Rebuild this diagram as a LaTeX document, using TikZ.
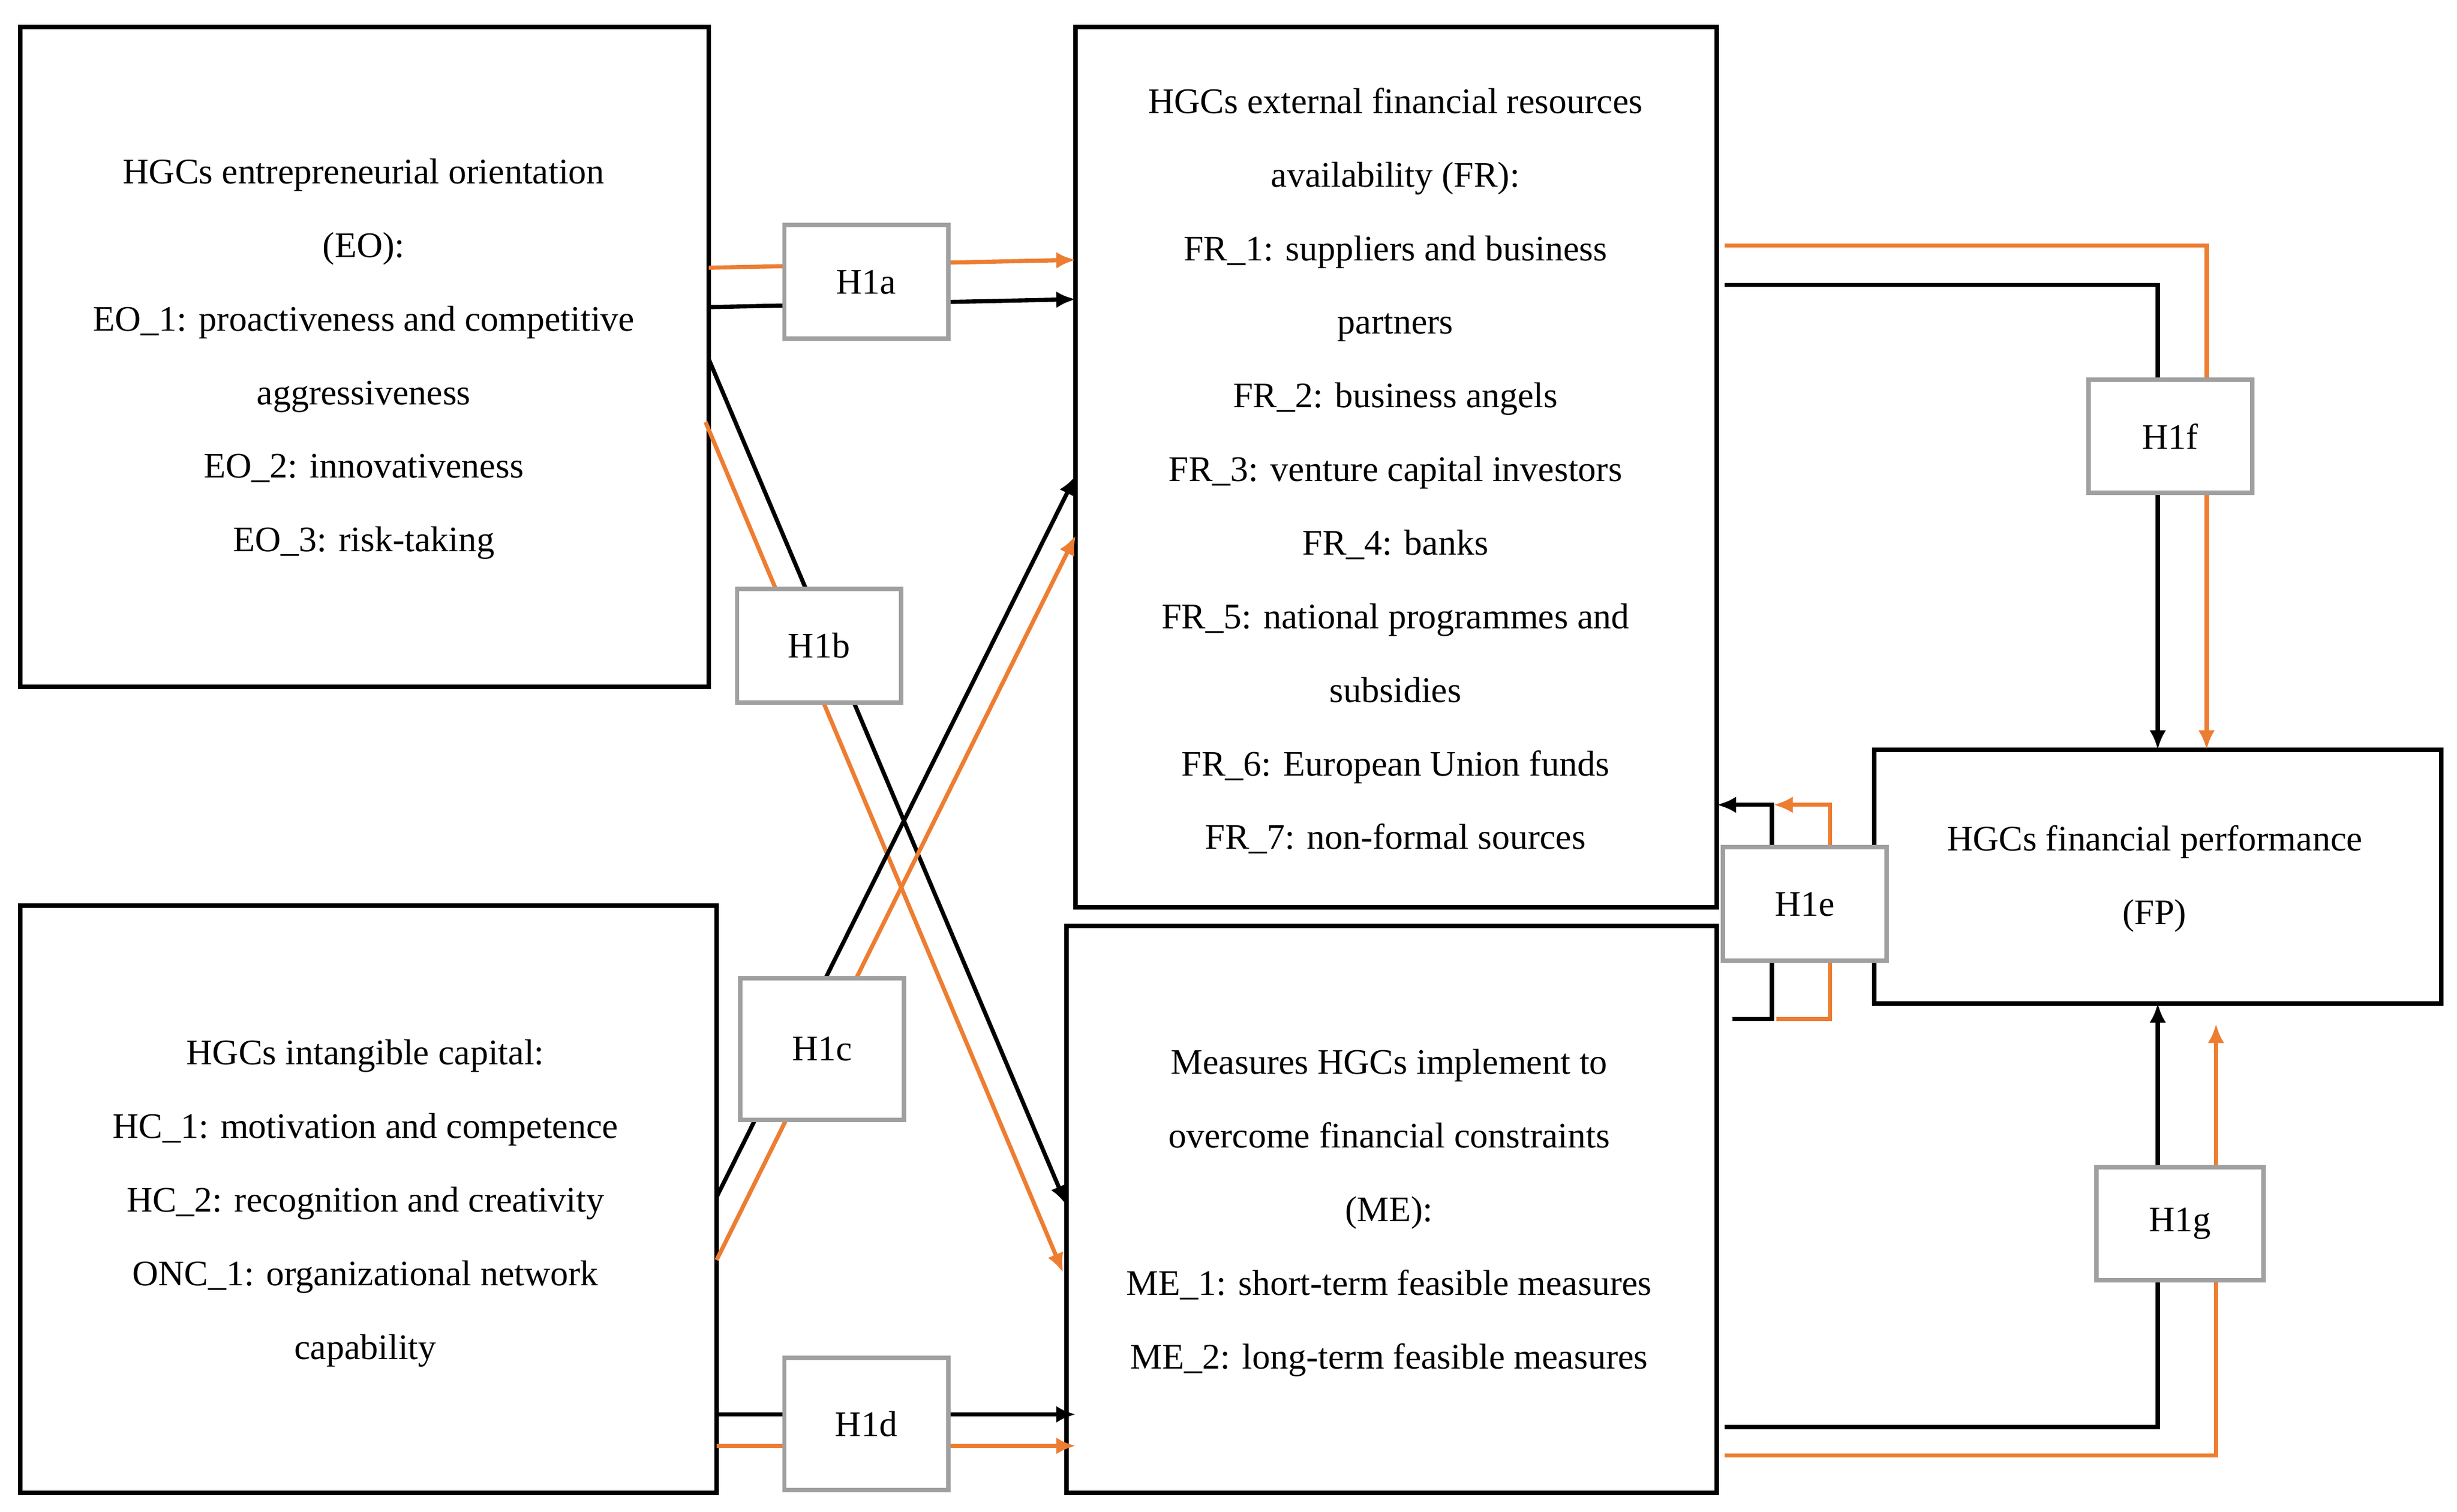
\documentclass[tikz,border=0pt]{standalone}
\usepackage{fontspec}
\setmainfont{Liberation Serif}
\usetikzlibrary{arrows.meta}
\definecolor{org}{RGB}{237,125,49}
\definecolor{gr}{RGB}{160,160,160}
\begin{document}
\begin{tikzpicture}[x=0.02cm,y=-0.02cm,
 box/.style={draw,line width=1.6pt},
 txt/.style={align=center,font=\fontsize{13}{26.6}\selectfont},
 hl/.style={draw=gr,line width=1.6pt,fill=white,minimum width=2.08cm,minimum height=1.44cm,font=\fontsize{13}{15}\selectfont},
 bk/.style={line width=1.5pt,-{Latex[length=7pt,width=6pt]}},
 og/.style={line width=1.5pt,draw=org,-{Latex[length=7pt,width=6pt]},org}]
\useasboundingbox (0,0) rectangle (1560,960);
\draw[box] (13,17) rectangle (450,436);
\draw[box] (13,575) rectangle (455,948);
\draw[box] (683,17) rectangle (1090,576);
\draw[box] (677,588) rectangle (1090,948);
\draw[box] (1190,476) rectangle (1550,637);
\node[txt] (eo) at (231,228) {HGCs entrepreneurial orientation\\(EO):\\EO\_1: proactiveness and competitive\\aggressiveness\\EO\_2: innovativeness\\EO\_3: risk-taking};
\node[txt] (ic) at (232,764) {HGCs intangible capital:\\HC\_1: motivation and competence\\HC\_2: recognition and creativity\\ONC\_1: organizational network\\capability};
\node[txt] (fr) at (886,299) {HGCs external financial resources\\availability (FR):\\FR\_1: suppliers and business\\partners\\FR\_2: business angels\\FR\_3: venture capital investors\\FR\_4: banks\\FR\_5: national programmes and\\subsidies\\FR\_6: European Union funds\\FR\_7: non-formal sources};
\node[txt] (me) at (882,770) {Measures HGCs implement to\\overcome financial constraints\\(ME):\\ME\_1: short-term feasible measures\\ME\_2: long-term feasible measures};
\node[txt] (fp) at (1368,558) {HGCs financial performance\\(FP)};
% arrows
\coordinate (a1) at (450,170); \coordinate (a2) at (683,165);
\coordinate (a3) at (450,195); \coordinate (a4) at (683,190);
\draw[og] (a1)--(a2); \draw[bk] (a3)--(a4);
\coordinate (b1) at (450,228); \coordinate (b2) at (677,765);
\coordinate (b3) at (448,268); \coordinate (b4) at (675,808);
\draw[bk] (b1)--(b2); \draw[og] (b3)--(b4);
\coordinate (c1) at (455,760); \coordinate (c2) at (683,302);
\coordinate (c3) at (455,800); \coordinate (c4) at (683,340);
\draw[bk] (c1)--(c2); \draw[og] (c3)--(c4);
\coordinate (d1) at (455,898); \coordinate (d2) at (683,898);
\coordinate (d3) at (455,918); \coordinate (d4) at (683,918);
\draw[bk] (d1)--(d2); \draw[og] (d3)--(d4);
\coordinate (e1) at (1100,647); \coordinate (e2) at (1090,511);
\draw[bk] (e1)-|(1125,511)--(e2);
\coordinate (e3) at (1128,647); \coordinate (e4) at (1126,511);
\draw[og] (e3)-|(1162,511)--(e4);
\coordinate (f1) at (1095,156); \coordinate (f2) at (1401,476);
\coordinate (f3) at (1095,181); \coordinate (f4) at (1370,476);
\draw[og] (f1)-|(f2); \draw[bk] (f3)-|(f4);
\coordinate (g1) at (1095,906); \coordinate (g2) at (1370,637);
\coordinate (g3) at (1095,924); \coordinate (g4) at (1407,650);
\draw[bk] (g1)-|(g2); \draw[og] (g3)-|(g4);
% labels
\node[hl] (h1a) at (550,179) {H1a};
\node[hl] (h1b) at (520,410) {H1b};
\node[hl,minimum height=1.8cm] (h1c) at (522,666) {H1c};
\node[hl,minimum height=1.68cm] (h1d) at (550,904) {H1d};
\node[hl] (h1e) at (1146,574) {H1e};
\node[hl] (h1f) at (1378,277) {H1f};
\node[hl,minimum width=2.12cm] (h1g) at (1384,777) {H1g};
\end{tikzpicture}
\end{document}
